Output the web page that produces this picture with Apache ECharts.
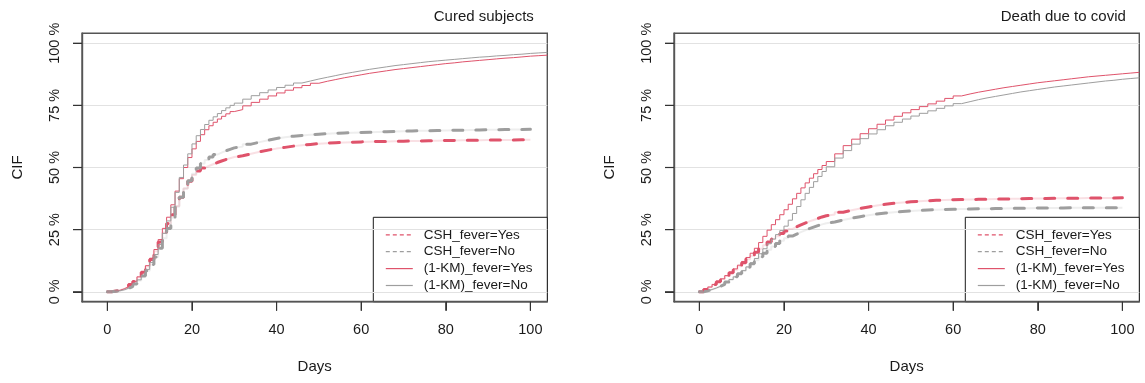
<!DOCTYPE html>
<html>
<head>
<meta charset="utf-8">
<script src="https://cdn.jsdelivr.net/npm/echarts@6/dist/echarts.min.js"></script>
<style>
  html, body { margin: 0; padding: 0; background: #ffffff; }
  #chart { width: 1145px; height: 383px; }
</style>
</head>
<body>
<div id="chart"></div>
<script>
// Follow-up days at which the cumulative incidence estimates are reported
const days = [
  0, 1, 2, 3, 4, 5, 6, 7, 8, 9, 10, 11, 12, 13, 14, 15, 16, 17, 18, 19, 20,
  21, 22, 23, 24, 25, 26, 27, 28, 29, 30,
  32, 34, 36, 38, 40, 42, 44, 46, 48, 50, 52, 54, 56, 58, 60,
  62, 64, 66, 68, 70, 72, 74, 76, 78, 80, 82, 84, 86, 88, 90, 92, 94, 96, 98, 100,
  102, 104
];

// Panel titles, legend entries and axis ticks
const panelTitles = ['Cured subjects', 'Death due to covid'];
const legendLabels = ['CSH_fever=Yes', 'CSH_fever=No', '(1-KM)_fever=Yes', '(1-KM)_fever=No'];
const yTicks = [0, 25, 50, 75, 100];
const yTickLabels = ['0 %', '25 %', '50 %', '75 %', '100 %'];
const xTicks = [0, 20, 40, 60, 80, 100];

// Cured subjects: CIF (%) by fever status
const curedKmYes = [
  0, 0.3, 0.6, 1.2, 2, 3, 4.2, 6, 8, 10.5, 13.5, 17, 21, 25.5, 30, 35, 40.5, 45.5, 50, 54,
  57.5, 60.5, 63.2, 65.2, 66.8, 68.2, 69.5, 70.6, 71.6, 72.5, 73.3,
  74.8, 76.2, 77.5, 78.8, 80, 81.1, 82.1, 83, 83.9, 84.7, 85.4, 86.1, 86.7, 87.3, 87.9,
  88.4, 88.9, 89.4, 89.8, 90.2, 90.6, 91.0, 91.4, 91.8, 92.1, 92.5, 92.8, 93.1, 93.4, 93.7,
  94.0, 94.2, 94.5, 94.8, 95.0,
  95.2, 95.3
];
const curedKmNo = [
  0, 0.2, 0.4, 0.8, 1.4, 2.2, 3.3, 4.8, 6.6, 9, 11.8, 15, 19, 23.5, 28.5, 34, 40, 46, 51, 55.5,
  59.5, 62.8, 65.3, 67.3, 69, 70.4, 71.7, 72.9, 74, 75, 75.9,
  77.5, 78.9, 80.1, 81.2, 82.2, 83.1, 84, 84.8, 85.6, 86.3, 87, 87.7, 88.3, 88.9, 89.5,
  90, 90.5, 91, 91.4, 91.8, 92.2, 92.6, 92.9, 93.2, 93.5, 93.8, 94.1, 94.4, 94.6, 94.9,
  95.1, 95.4, 95.6, 95.9, 96.1,
  96.3, 96.4
];
const curedCshYes = [
  0, 0.3, 0.6, 1.1, 1.9, 2.9, 4.1, 5.8, 7.8, 10.2, 13, 16.3, 20, 23.8, 27.5, 31, 34.5, 38, 41.5, 44.5,
  47, 48.6, 49.8, 50.6, 51.3, 52, 52.6, 53.2, 53.7, 54.2, 54.7,
  55.5, 56.3, 57, 57.6, 58.1, 58.6, 59, 59.3, 59.6, 59.8, 60, 60.1, 60.2, 60.3, 60.4,
  60.5, 60.5, 60.6, 60.6, 60.7, 60.7, 60.8, 60.8, 60.9, 60.9, 61, 61, 61, 61.1, 61.1,
  61.1, 61.1, 61.2, 61.2, 61.2
];
const curedCshNo = [
  0, 0.2, 0.4, 0.8, 1.4, 2.1, 3.1, 4.5, 6.3, 8.5, 11, 14, 17.5, 21.5, 25.5, 29.8, 34.2, 38, 41.5, 44.7,
  47.5, 49.8, 51.6, 53, 54.2, 55.2, 56, 56.7, 57.3, 57.9, 58.4,
  59.4, 60.2, 61, 61.7, 62.2, 62.6, 62.9, 63.2, 63.4, 63.6, 63.8, 63.9, 64, 64.1, 64.2,
  64.3, 64.4, 64.5, 64.6, 64.7, 64.8, 64.8, 64.9, 64.9, 65, 65, 65.1, 65.1, 65.2, 65.2,
  65.3, 65.3, 65.3, 65.4, 65.4
];

// Death due to covid: CIF (%) by fever status
const deathKmYes = [
  0, 0.9, 1.9, 2.9, 4, 5.2, 6.5, 7.8, 9.2, 10.7, 12.2, 13.8, 15.5, 17.5, 19.8, 22.3, 24.8, 27, 29, 31,
  33, 35.2, 37.4, 39.6, 41.8, 43.8, 45.7, 47.5, 49.2, 50.8, 52.4,
  55.5, 58.8, 61.4, 63.6, 65.6, 67.4, 69.1, 70.6, 72, 73.3, 74.5, 75.6, 76.7, 77.8, 78.8,
  79.6, 80.3, 80.9, 81.5, 82.1, 82.6, 83.1, 83.6, 84.1, 84.5, 84.9, 85.3, 85.7, 86.1, 86.5,
  86.8, 87.1, 87.4, 87.7, 88,
  88.3, 88.5
];
const deathKmNo = [
  0, 0.4, 0.9, 1.5, 2.2, 3, 3.9, 4.9, 6, 7.2, 8.5, 10, 11.6, 13.4, 15.3, 17.3, 19.3, 21.2, 23, 24.6,
  26.4, 28.8, 31.5, 34.3, 37, 39.6, 42, 44.3, 46.4, 48.4, 50.3,
  53.8, 56.8, 59.4, 61.6, 63.5, 65.2, 66.8, 68.2, 69.5, 70.7, 71.8, 72.8, 73.8, 74.8, 75.7,
  76.5, 77.3, 78, 78.6, 79.2, 79.8, 80.4, 80.9, 81.4, 81.9, 82.4, 82.8, 83.2, 83.6, 84,
  84.4, 84.8, 85.1, 85.5, 85.8,
  86.1, 86.3
];
const deathCshYes = [
  0, 0.9, 1.9, 2.9, 4, 5.1, 6.3, 7.6, 8.9, 10.3, 11.7, 13.1, 14.5, 15.9, 17.3, 18.7, 20, 21.2, 22.3, 23.4,
  24.4, 25.3, 26.1, 26.9, 27.6, 28.3, 28.9, 29.5, 30.1, 30.6, 31.1,
  32, 32.8, 33.5, 34.1, 34.7, 35.2, 35.6, 35.9, 36.2, 36.4, 36.6, 36.8, 36.9, 37, 37.1,
  37.1, 37.2, 37.2, 37.3, 37.3, 37.4, 37.4, 37.5, 37.5, 37.5, 37.6, 37.6, 37.6, 37.6, 37.7,
  37.7, 37.7, 37.7, 37.8, 37.8
];
const deathCshNo = [
  0, 0.4, 0.9, 1.5, 2.2, 3, 3.9, 4.9, 6, 7.2, 8.5, 9.9, 11.3, 12.7, 14.1, 15.5, 16.9, 18.2, 19.4, 20.5,
  21.5, 22.4, 23.2, 24, 24.7, 25.4, 26, 26.6, 27.1, 27.6, 28.1,
  28.9, 29.6, 30.2, 30.8, 31.3, 31.7, 32, 32.3, 32.5, 32.7, 32.9, 33, 33.1, 33.2, 33.3,
  33.3, 33.4, 33.4, 33.5, 33.5, 33.6, 33.6, 33.6, 33.7, 33.7, 33.7, 33.7, 33.8, 33.8, 33.8,
  33.8, 33.8, 33.8, 33.8, 33.8
];

const panels = [
  { cshYes: curedCshYes, cshNo: curedCshNo, kmYes: curedKmYes, kmNo: curedKmNo },
  { cshYes: deathCshYes, cshNo: deathCshNo, kmYes: deathKmYes, kmNo: deathKmNo }
];

const RED = '#DF536B';
const GRAY = '#9E9E9E';
const TEXT = '#1a1a1a';
const FRAME = '#555555';
const TICK = '#333333';
const FONT = '"Liberation Sans", Arial, sans-serif';
const X_MIN = -6, X_MAX = 104, Y_MIN = -4, Y_MAX = 104;
const TICK_LEN = 9;

// Plot boxes (pixels)
const boxes = [
  { left: 82, top: 33.3, width: 465.3, height: 268.4 },
  { left: 674, top: 33.3, width: 465.3, height: 268.4 }
];

const pairs = vals => vals.map((v, i) => [days[i], v]);

const grids = boxes.map(b => ({
  left: b.left, top: b.top, width: b.width, height: b.height,
  show: true, borderColor: FRAME, borderWidth: 1.4, backgroundColor: 'transparent',
  containLabel: false
}));

const xAxes = boxes.map((b, i) => ({
  gridIndex: i, type: 'value', min: X_MIN, max: X_MAX, position: 'bottom',
  axisLine: { show: true, onZero: false, lineStyle: { color: FRAME, width: 1.4 } },
  axisTick: { show: true, inside: false, length: TICK_LEN, customValues: xTicks,
              lineStyle: { color: TICK, width: 1 } },
  axisLabel: { show: true, customValues: xTicks, margin: 21, fontSize: 14.5,
               color: TEXT, fontFamily: FONT },
  splitLine: { show: false },
  name: 'Days', nameLocation: 'middle', nameGap: 58,
  nameTextStyle: { fontSize: 15, color: TEXT, fontFamily: FONT }
}));

const yAxes = boxes.map((b, i) => ({
  gridIndex: i, type: 'value', min: Y_MIN, max: Y_MAX, position: 'left',
  axisLine: { show: true, onZero: false, lineStyle: { color: FRAME, width: 1.4 } },
  axisTick: { show: true, inside: false, length: TICK_LEN, customValues: yTicks,
              lineStyle: { color: TICK, width: 1 } },
  axisLabel: { show: true, customValues: yTicks, rotate: 90, margin: 20, fontSize: 14.5,
               color: TEXT, fontFamily: FONT,
               formatter: v => yTickLabels[yTicks.indexOf(v)] },
  splitLine: { show: true, lineStyle: { color: '#e2e2e2', width: 1 } },
  name: 'CIF', nameLocation: 'middle', nameGap: 57,
  nameTextStyle: { fontSize: 15, color: TEXT, fontFamily: FONT }
}));

const series = [];
panels.forEach((p, i) => {
  // faint solid trace under each dashed curve
  [[p.cshYes, RED], [p.cshNo, GRAY]].forEach(([vals, col]) => {
    series.push({
      type: 'line', xAxisIndex: i, yAxisIndex: i, step: 'end', showSymbol: false,
      data: pairs(vals), z: 2, silent: true,
      lineStyle: { color: col, width: 2, opacity: 0.18 }
    });
  });
  // CSH estimates: thick dashed
  [[p.cshYes, RED, legendLabels[0]], [p.cshNo, GRAY, legendLabels[1]]].forEach(([vals, col, nm]) => {
    series.push({
      name: nm, type: 'line', xAxisIndex: i, yAxisIndex: i, step: 'end', showSymbol: false,
      data: pairs(vals), z: 3,
      lineStyle: { color: col, width: 3, type: [10, 13], cap: 'round' }
    });
  });
  // 1-KM estimates: thin solid steps
  [[p.kmYes, RED, legendLabels[2]], [p.kmNo, GRAY, legendLabels[3]]].forEach(([vals, col, nm]) => {
    series.push({
      name: nm, type: 'line', xAxisIndex: i, yAxisIndex: i, step: 'end', showSymbol: false,
      data: pairs(vals), z: 4,
      lineStyle: { color: col, width: 1 }
    });
  });
});

const titles = boxes.map((b, i) => ({
  text: panelTitles[i], right: 1145 - (b.left + b.width - 13.5), top: 9, padding: 0,
  textStyle: { fontSize: 15, fontWeight: 'normal', color: TEXT, fontFamily: FONT }
}));

// Legend boxes in the lower right corner of each panel
const legendStyles = [
  { stroke: RED, lineDash: [4, 3], lineWidth: 1.2 },
  { stroke: GRAY, lineDash: [4, 3], lineWidth: 1.2 },
  { stroke: RED, lineWidth: 1.2 },
  { stroke: GRAY, lineWidth: 1.2 }
];
const legendW = 174, legendH = 84.4;
const graphics = [];
boxes.forEach(b => {
  const x0 = b.left + b.width - legendW;
  const y0 = b.top + b.height - legendH;
  const children = [{
    type: 'rect', shape: { x: x0, y: y0, width: legendW, height: legendH },
    style: { fill: '#ffffff', stroke: '#1a1a1a', lineWidth: 1 }
  }];
  legendLabels.forEach((lab, k) => {
    const yy = y0 + 17.5 + 16.9 * k;
    children.push({
      type: 'line', shape: { x1: x0 + 12.5, y1: yy, x2: x0 + 39.5, y2: yy },
      style: Object.assign({}, legendStyles[k])
    });
    children.push({
      type: 'text', x: x0 + 50.5, y: yy,
      style: { text: lab, fill: TEXT, font: '13.5px ' + FONT, verticalAlign: 'middle' }
    });
  });
  graphics.push({ type: 'group', z: 20, children });
});

// Outward tick marks on their own top layer, at the same axis values the labels use
boxes.forEach(b => {
  const bottom = b.top + b.height;
  const marks = [];
  xTicks.forEach(v => {
    const x = b.left + (v - X_MIN) / (X_MAX - X_MIN) * b.width;
    marks.push({
      type: 'rect', shape: { x: x - 0.6, y: bottom, width: 1.2, height: TICK_LEN },
      style: { fill: TICK }
    });
  });
  yTicks.forEach(v => {
    const y = bottom - (v - Y_MIN) / (Y_MAX - Y_MIN) * b.height;
    marks.push({
      type: 'rect', shape: { x: b.left - TICK_LEN, y: y - 0.6, width: TICK_LEN, height: 1.2 },
      style: { fill: TICK }
    });
  });
  graphics.push({ type: 'group', zlevel: 1, z: 100, silent: true, children: marks });
});

const chart = echarts.init(document.getElementById('chart'), null, { renderer: 'canvas' });
chart.setOption({
  animation: false,
  backgroundColor: '#ffffff',
  title: titles,
  grid: grids,
  xAxis: xAxes,
  yAxis: yAxes,
  series: series,
  graphic: graphics
});
</script>
</body>
</html>
